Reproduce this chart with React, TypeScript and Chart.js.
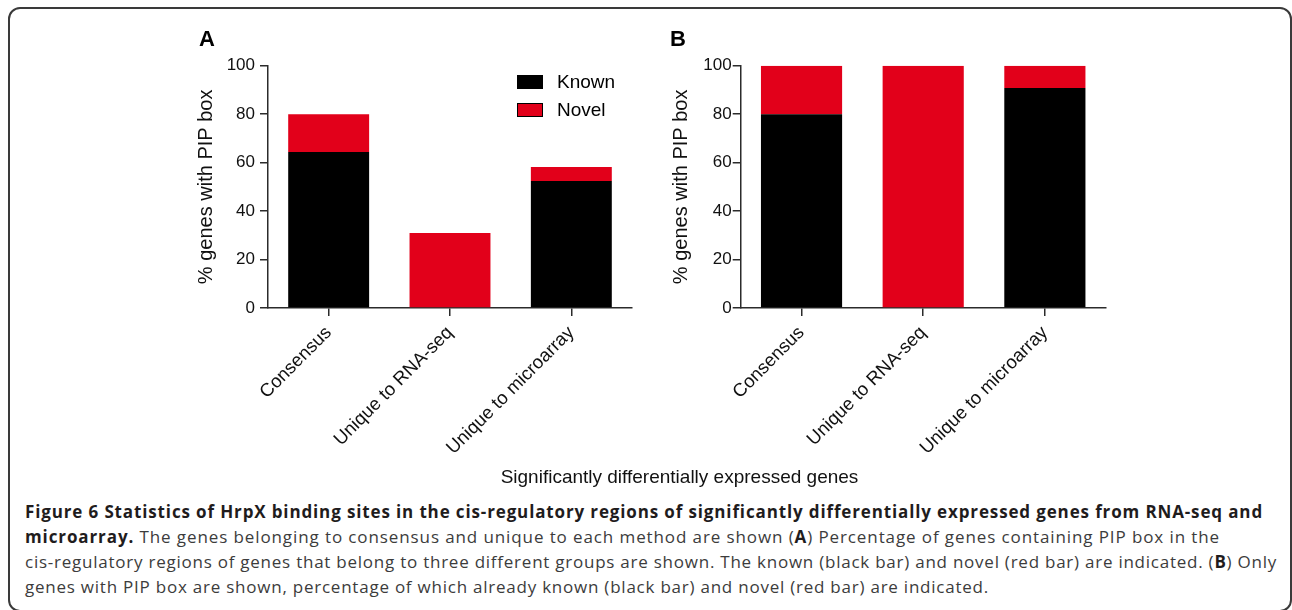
import React, { useEffect, useLayoutEffect, useRef } from 'react';
import { Chart, registerables } from 'chart.js';

Chart.register(...registerables);
Chart.defaults.font.family = "'Liberation Sans', Arial, sans-serif";

// ---- data ----
const categories = ['Consensus', 'Unique to RNA-seq', 'Unique to microarray'];
const seriesNames = ['Known', 'Novel'];
const seriesColors = ['#000000', '#E2001A'];
const knownA = [64.4, 0, 52.4];
const novelA = [15.6, 31, 5.8];
const knownB = [80, 0, 90.8];
const novelB = [20, 100, 9.2];
const yMin = 0;
const yMax = 100;
const yStep = 20;
const yTitle = '% genes with PIP box';
const xTitle = 'Significantly differentially expressed genes';
const panelLetters = ['A', 'B'];

const axisColor = '#2b2b2b';
const capFont = "'Open Sans', 'Noto Sans', sans-serif";
const chartFont = "'Liberation Sans', Arial, sans-serif";

type Cfg = {
  left: number;
  top: number;
  width: number;
  height: number;
  yWidth: number;
  padTop: number;
  padRight: number;
  areaBottom: number;
  titlePad: number;
  yTickPad: number;
  xTickPad: number;
};

const cfgA: Cfg = {
  left: 180, top: 20, width: 460, height: 450, yWidth: 88, padTop: 45.7, padRight: 8,
  areaBottom: 288, titlePad: 14.7, yTickPad: 5, xTickPad: 6,
};
const cfgB: Cfg = {
  left: 660, top: 20, width: 460, height: 450, yWidth: 80.7, padTop: 45.7, padRight: 14.3,
  areaBottom: 288, titlePad: 9.7, yTickPad: 1, xTickPad: 6,
};

function Panel({ known, novel, cfg }: { known: number[]; novel: number[]; cfg: Cfg }) {
  const ref = useRef<HTMLCanvasElement>(null);
  useEffect(() => {
    const chart = new Chart(ref.current as HTMLCanvasElement, {
      type: 'bar',
      data: {
        labels: categories,
        datasets: [
          { label: seriesNames[0], data: known, backgroundColor: seriesColors[0], borderWidth: 0, barPercentage: 0.667, categoryPercentage: 1 },
          { label: seriesNames[1], data: novel, backgroundColor: seriesColors[1], borderWidth: 0, barPercentage: 0.667, categoryPercentage: 1 },
        ],
      },
      options: {
        responsive: false,
        animation: false,
        events: [],
        layout: { padding: { top: cfg.padTop, right: cfg.padRight, bottom: 0, left: 0 } },
        plugins: { legend: { display: false }, tooltip: { enabled: false }, title: { display: false } },
        scales: {
          x: {
            stacked: true,
            offset: true,
            grid: { display: true, drawOnChartArea: false, drawTicks: true, tickLength: 8, color: axisColor, lineWidth: 1.5, offset: false },
            border: { display: true, color: axisColor, width: 1.5 },
            ticks: { color: '#111', font: { size: 18.5 }, maxRotation: 45, minRotation: 45, padding: cfg.xTickPad, autoSkip: false },
            afterFit: (s: any) => { s.height = cfg.height - cfg.areaBottom; },
          },
          y: {
            stacked: true,
            min: yMin,
            max: yMax,
            ticks: { stepSize: yStep, color: '#111', font: { size: 17 }, padding: cfg.yTickPad },
            grid: { display: true, drawOnChartArea: false, drawTicks: true, tickLength: 8, color: axisColor, lineWidth: 1.5 },
            border: { display: true, color: axisColor, width: 1.5 },
            title: { display: true, text: yTitle, color: '#111', font: { size: 20 }, padding: { top: cfg.titlePad, bottom: 0 } },
            afterFit: (s: any) => { s.width = cfg.yWidth; },
          },
        },
      } as any,
    });
    return () => chart.destroy();
  }, []);
  return (
    <canvas
      ref={ref}
      width={cfg.width}
      height={cfg.height}
      style={{ position: 'absolute', left: cfg.left, top: cfg.top, width: cfg.width, height: cfg.height }}
    />
  );
}

const captionLines: { parts: { t: string; b?: boolean }[]; target: number }[] = [
  { parts: [{ t: 'Figure 6 Statistics of HrpX binding sites in the cis-regulatory regions of significantly differentially expressed genes from RNA-seq and', b: true }], target: 1238 },
  { parts: [{ t: 'microarray.', b: true }, { t: ' The genes belonging to consensus and unique to each method are shown (' }, { t: 'A', b: true }, { t: ') Percentage of genes containing PIP box in the' }], target: 1195 },
  { parts: [{ t: 'cis-regulatory regions of genes that belong to three different groups are shown. The known (black bar) and novel (red bar) are indicated. (' }, { t: 'B', b: true }, { t: ') Only' }], target: 1252 },
  { parts: [{ t: 'genes with PIP box are shown, percentage of which already known (black bar) and novel (red bar) are indicated.' }], target: 964 },
];

function Caption() {
  const refs = useRef<(HTMLSpanElement | null)[]>([]);
  useLayoutEffect(() => {
    const fit = () => {
      refs.current.forEach((el, i) => {
        if (!el) return;
        el.style.letterSpacing = '0px';
        const w = el.getBoundingClientRect().width;
        const n = (el.textContent || '').length;
        const ls = (captionLines[i].target - w) / n;
        el.style.letterSpacing = ls + 'px';
      });
    };
    fit();
    if ((document as any).fonts && (document as any).fonts.ready) {
      (document as any).fonts.ready.then(fit);
    }
  }, []);
  return (
    <div style={{ position: 'absolute', left: 25, top: 499, fontFamily: capFont, fontSize: 17, lineHeight: '25px', color: '#3c3c3c' }}>
      {captionLines.map((line, i) => (
        <div key={i} style={{ whiteSpace: 'nowrap', height: 25 }}>
          <span ref={(el) => { refs.current[i] = el; }} style={{ display: 'inline-block', whiteSpace: 'nowrap' }}>
            {line.parts.map((p, j) => (
              <span key={j} style={p.b ? { fontWeight: 700, color: '#1f1c1d' } : undefined}>{p.t}</span>
            ))}
          </span>
        </div>
      ))}
    </div>
  );
}

export default function App() {
  return (
    <div style={{ position: 'fixed', left: 0, top: 0, width: 1292, height: 610, overflow: 'hidden', background: '#fff' }}>
      <div style={{ position: 'absolute', left: 8, top: 7, width: 1284, height: 605, border: '2px solid #3a3a3a', borderRadius: 12, boxSizing: 'border-box' }} />
      <Panel known={knownA} novel={novelA} cfg={cfgA} />
      <Panel known={knownB} novel={novelB} cfg={cfgB} />
      <div style={{ position: 'absolute', left: 199, top: 28, fontFamily: chartFont, fontWeight: 700, fontSize: 22, lineHeight: '22px', color: '#000' }}>{panelLetters[0]}</div>
      <div style={{ position: 'absolute', left: 670, top: 28, fontFamily: chartFont, fontWeight: 700, fontSize: 22, lineHeight: '22px', color: '#000' }}>{panelLetters[1]}</div>
      <div style={{ position: 'absolute', left: 517, top: 75, fontFamily: chartFont, fontSize: 19, color: '#000' }}>
        {seriesNames.map((name, i) => (
          <div key={name} style={{ display: 'flex', alignItems: 'flex-start', height: 14, marginBottom: 14, lineHeight: '14px' }}>
            <div style={{ width: 26, height: 14, background: seriesColors[i], border: '1px solid #000', boxSizing: 'border-box' }} />
            <div style={{ marginLeft: 14, lineHeight: '14px', height: 14, position: 'relative', top: 0 }}>{name}</div>
          </div>
        ))}
      </div>
      <div style={{ position: 'absolute', left: 379.5, top: 467, width: 600, textAlign: 'center', fontFamily: chartFont, fontSize: 19, lineHeight: '19px', color: '#111' }}>{xTitle}</div>
      <Caption />
    </div>
  );
}
